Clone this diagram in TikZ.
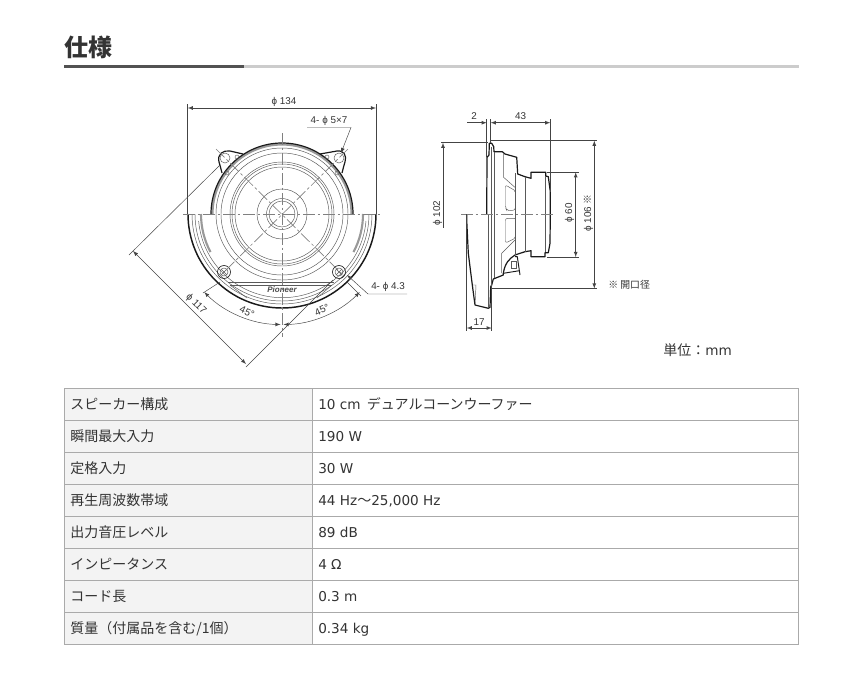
\documentclass[tikz,border=0pt]{standalone}
\usepackage{fontspec}
\usetikzlibrary{arrows,positioning}
\setmainfont{DejaVu Sans}
\newfontfamily\cjk{Noto Sans CJK JP}
\newfontfamily\dimfont{Liberation Sans}
\definecolor{inkc}{HTML}{333333}
\definecolor{linec}{HTML}{AAAAAA}
\definecolor{cellc}{HTML}{F3F3F3}
\definecolor{axisc}{HTML}{808080}
\definecolor{dimc}{HTML}{444444}
\definecolor{bandc}{HTML}{999999}
\newcommand\jp{\cjk\fontsize{10.5}{12}\selectfont}
\tikzstyle{cell}=[anchor=base west,inner sep=0,text=inkc,font=\fontsize{10.2}{12}\selectfont]
\tikzstyle{dimtext}=[inner sep=0,text=inkc,font=\dimfont\fontsize{7.4}{8}\selectfont]
\tikzstyle{axis}=[axisc,line width=.5pt,dash pattern=on 9pt off 2pt on 2pt off 2pt]
\tikzstyle{dimline}=[dimc,line width=.35pt]
\tikzstyle{thin part}=[black!65,line width=.35pt]
\tikzstyle{outline}=[black!90,line width=.9pt,line join=round]
\begin{document}
\begin{tikzpicture}[x=.75pt,y=.75pt,>=latex]%
\useasboundingbox (0,0) rectangle (859,-690);%
%% heading
\node[anchor=base west,inner sep=0,text=inkc,font=\cjk\bfseries\fontsize{18}{20}\selectfont] (title) at (64,-56) {仕様}; %%
\fill[black!20] (244,-65) rectangle (799,-68);%
\fill[black!68] (64,-65) rectangle (244,-68);%

%% front view
\begin{scope}[shift={(282,-214)}]%
\draw[bandc,line width=1.6pt] (69.5,0) arc (0:180:69.5);%
\draw[outline] (71,0) arc (0:180:71);%
\draw[thin part] (66,0) arc (0:180:66);%
\draw[thin part] (61,0) arc (0:180:61);%
\draw[thin part] (0,0) circle (52);%
\draw[thin part] (0,0) circle (50);%
\draw[thin part] (0,0) circle (47);%
\draw[thin part] (0,0) circle (25);%
\draw[thin part] (0,0) circle (15.5);%
\draw[thin part] (0,0) circle (13);%
\draw[thin part] (66,0) arc (0:-180:66);%
\draw[thin part] (61,0) arc (0:-180:61);%
%% lower rim
\draw[thin part] (90,0) arc (0:-180:90);%
\draw[thin part] (87,0) arc (0:-180:87);%
\draw[thin part] (84,-7) arc (-5:-175:84);%
\draw[bandc,line width=1.6pt] (81,0) arc (0:-28:81);%
\draw[bandc,line width=1.6pt] (-81,0) arc (-180:-152:81);%
\draw[outline,line width=1.1pt] (94,0) arc (0:-180:94);%
%% ears
\draw[outline] (-39,60) -- (-52,63) .. controls (-59,64) and (-65,60) .. (-63,52) .. controls (-62,49) and (-61,45) .. (-60,41);%
\draw[outline] (38,60) -- (55,63) .. controls (62,64) and (65,58) .. (63,52) .. controls (62,49) and (61,45) .. (60,41);%
\draw[thin part] (-57,56) circle (5);%
\draw[thin part] (57,56) circle (5);%
\draw[thin part] (-45,57) circle (2);%
\draw[thin part] (45,57) circle (2);%
\draw[thin part] (-55,41) circle (2);%
\draw[thin part] (55,41) circle (2);%
%% lower holes
\draw[outline,line width=.5pt] (-58,-58) circle (6.5);%
\draw[thin part] (-58,-58) circle (4);%
\draw[thin part] (-61,-55) -- (-55,-61);%
\draw[thin part] (-61,-61) -- (-55,-55);%
\draw[outline,line width=.5pt] (57,-58) circle (6.5);%
\draw[thin part] (57,-58) circle (4);%
\draw[thin part] (54,-55) -- (60,-61);%
\draw[thin part] (54,-61) -- (60,-55);%
%% name plate
\draw[thin part] (-54,-68) -- (52,-68);%
\draw[thin part] (-52,-71) -- (50,-71);%
\draw[thin part] (-52,-71) -- (-35,-84);%
\draw[thin part] (50,-71) -- (35,-84);%
\node[inner sep=0,text=black!70,font=\dimfont\bfseries\itshape\fontsize{6}{7}\selectfont] (logo) at (0,-76) {Pioneer}; %%
%% center lines
\draw[axis] (-99,0) -- (98,0);%
\draw[axis] (0,81) -- (0,-123);%
\draw[axis] (-66,65) -- (62,-62);%
\draw[axis] (66,65) -- (-62,-62);%
\end{scope}
%% front view dimensions
\draw[dimline] (187.7,-214) -- (187.7,-104);%
\draw[dimline] (376,-214) -- (376,-104);%
\draw[dimline,<->] (187.7,-108) -- (376,-108);%
\node[dimtext] (d134) at (284,-102) {ϕ 134}; %%
\draw[dimline,->] (307,-127.5) -- (351,-127.5) -- (341,-153);%
\node[dimtext] (d57) at (329,-121) {4- ϕ 5×7}; %%
\draw[dimline] (129,-255) -- (220,-165);%
\draw[dimline] (246,-367) -- (333,-280);%
\draw[dimline,<->] (133,-251) -- (246,-364);%
\node[dimtext,rotate=-45] (d117) at (196,-304) {ϕ 117}; %%
\draw[dimline] (203,-293) -- (220,-282);%
\draw[dimline] (361,-296) -- (347,-282);%
\draw[dimline,<-] (347,-275) -- (368,-294) -- (407,-294);%
\node[dimtext] (d43) at (388,-287) {4- ϕ 4.3}; %%
\draw[dimline,<->] (280.5,-324.5) arc (269:225:110.5);%
\draw[dimline,<->] (283.5,-324.5) arc (271:315:110.5);%
\node[dimtext,rotate=-25] (a45l) at (247,-312) {45°}; %%
\node[dimtext,rotate=25] (a45r) at (322,-310) {45°}; %%

%% side view
\draw[outline] (486.7,-214) -- (487,-157.3) -- (489,-155) -- (489.3,-143.3) -- (491.7,-143.3) -- (493.7,-146.7) -- (494,-151.7) -- (502.3,-151.7) -- (505,-154) -- (516.7,-157.3) -- (517.7,-174) -- (525,-176.7) -- (531,-178.3) -- (531,-172.3) -- (545.7,-172.3) -- (545.7,-176) -- (548.3,-176.7) -- (550.3,-191.7) -- (550.3,-214) -- (550,-243.3) -- (548.3,-252.7) -- (545,-252.7) -- (545,-256.7) -- (531,-256.7) -- (531,-250.7) -- (525,-251.7) -- (515,-255) .. controls (509,-259) and (505,-263) .. (503.3,-273.3) -- (503.3,-275) -- (493.3,-279) -- (491.7,-285) -- (490.7,-286.7) -- (490,-307.3) -- (488.3,-308.3) -- (475,-305) -- (472.3,-285) -- (468.3,-253.3) -- (466.7,-220) -- (466.7,-214.3);%
\draw[thin part] (488.3,-214) -- (488.3,-308);%
\draw[thin part] (491.7,-147) -- (491.7,-286);%
\draw[thin part] (494,-152) -- (494,-278);%
\draw[thin part] (503.3,-154) -- (503.3,-177) -- (515.7,-188);%
\draw[thin part] (501.7,-273) -- (501.7,-253.3) -- (515,-240);%
\draw[thin part] (515.7,-173) -- (515.7,-255);%
\draw[thin part] (525,-177) -- (525,-252);%
\draw[thin part] (545.7,-176) -- (545.7,-252);%
\draw[thin part] (472.3,-285) -- (476,-285) -- (475,-305);%
\draw[thin part,rounded corners=1.5pt] (505.5,-185) -- (515.7,-191) -- (515.7,-210) -- (507,-210.7) -- (505.5,-208) -- cycle;%
\draw[thin part,rounded corners=1.5pt] (505.5,-218.3) -- (515.7,-218.3) -- (515.7,-238) -- (505.5,-243) -- cycle;%
%% terminal
\draw[outline,line width=.7pt] (515,-256.7) -- (517.3,-256.7) -- (520,-275);%
\draw[outline,line width=.7pt] (503.3,-273.3) -- (519.3,-270.7);%
\draw[thin part] (511.7,-261.7) rectangle (516,-268.3);%
\draw[axis] (461,-214.3) -- (553,-214.3);%
%% side view dimensions
\draw[dimline] (486.7,-119) -- (486.7,-157);%
\draw[dimline] (490.7,-119) -- (490.7,-143);%
\draw[dimline] (550.3,-119) -- (550.3,-192);%
\draw[dimline,->] (467,-122.7) -- (486.7,-122.7);%
\draw[dimline,<->] (490.7,-122.7) -- (550.3,-122.7);%
\node[dimtext] (d2) at (474,-116) {2}; %%
\node[dimtext] (d43w) at (520.5,-116) {43}; %%
\draw[dimline] (441,-142.7) -- (488,-142.7);%
\draw[dimline,<-] (443,-142.7) -- (443,-228);%
\node[dimtext,rotate=90] (d102) at (437.5,-213) {ϕ 102}; %%
\draw[dimline] (547,-172.3) -- (579,-172.3);%
\draw[dimline] (547,-257) -- (579,-257);%
\draw[dimline,<->] (575.7,-172.3) -- (575.7,-257);%
\node[dimtext,rotate=90] (d60) at (569.5,-213) {ϕ 60}; %%
\draw[dimline] (491,-140.7) -- (597,-140.7);%
\draw[dimline] (491,-288.5) -- (597,-288.5);%
\draw[dimline,<->] (594.3,-140.7) -- (594.3,-288.5);%
\node[dimtext,rotate=90] (d106) at (588.5,-213) {ϕ 106 {\cjk ※}}; %%
\node[dimtext,anchor=west,font=\cjk\fontsize{7.4}{8}\selectfont] (hole) at (608,-285) {※ 開口径}; %%
\draw[dimline] (466.7,-214) -- (466.7,-331);%
\draw[dimline] (491.7,-286) -- (491.7,-331);%
\draw[dimline,<->] (466.7,-328) -- (491.7,-328);%
\node[dimtext] (d17) at (479,-322) {17}; %%
\node[cell] (unit) at (663,-355) {{\jp 単位：}mm}; %%

%% table
\fill[cellc] (64.5,-388.5) rectangle (312.5,-644.5);%
\draw[linec,line width=.75pt] (64.5,-388.5) rectangle (798.5,-644.5);%
\draw[linec,line width=.75pt] (312.5,-388.5) -- (312.5,-644.5);%
\draw[linec,line width=.75pt] (64.5,-420.5) -- (798.5,-420.5);%
\draw[linec,line width=.75pt] (64.5,-452.5) -- (798.5,-452.5);%
\draw[linec,line width=.75pt] (64.5,-484.5) -- (798.5,-484.5);%
\draw[linec,line width=.75pt] (64.5,-516.5) -- (798.5,-516.5);%
\draw[linec,line width=.75pt] (64.5,-548.5) -- (798.5,-548.5);%
\draw[linec,line width=.75pt] (64.5,-580.5) -- (798.5,-580.5);%
\draw[linec,line width=.75pt] (64.5,-612.5) -- (798.5,-612.5);%
\begin{scope}[every node/.append style={cell}]%
\node (k1) at (70,-409) {\jp スピーカー構成}; %%
\node (k2) at (70,-441) {\jp 瞬間最大入力}; %%
\node (k3) at (70,-473) {\jp 定格入力}; %%
\node (k4) at (70,-505) {\jp 再生周波数帯域}; %%
\node (k5) at (70,-537) {\jp 出力音圧レベル}; %%
\node (k6) at (70,-569) {\jp インピータンス}; %%
\node (k7) at (70,-601) {\jp コード長}; %%
\node (k8) at (70,-633) {\jp 質量（付属品を含む/1個）}; %%
\node (v1) at (318,-409) {10 cm \hspace{1.5pt}{\jp デュアルコーンウーファー}}; %%
\node (v2) at (318,-441) {190 W}; %%
\node (v3) at (318,-473) {30 W}; %%
\node (v4) at (318,-505) {44 Hz{\jp ～}25,000 Hz}; %%
\node (v5) at (318,-537) {89 dB}; %%
\node (v6) at (318,-569) {4 Ω}; %%
\node (v7) at (318,-601) {0.3 m}; %%
\node (v8) at (318,-633) {0.34 kg}; %%
\end{scope}
\end{tikzpicture}
\end{document}
